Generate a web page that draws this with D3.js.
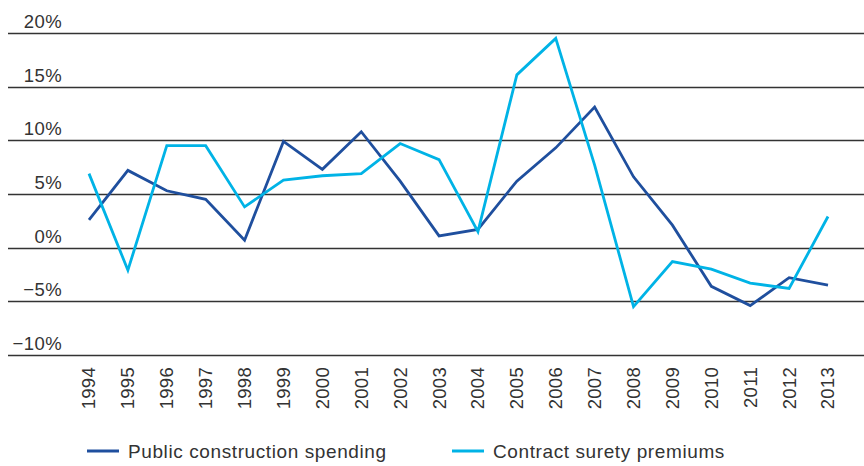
<!DOCTYPE html>
<html>
<head>
<meta charset="utf-8">
<script src="https://cdn.jsdelivr.net/npm/d3@7"></script>
<style>
  body { margin: 0; background: #fff; }
  svg text { font-family: "Liberation Sans", Arial, sans-serif; fill: #333; }
</style>
</head>
<body>
<svg id="chart" width="864" height="466"></svg>
<script>
var years = [1994, 1995, 1996, 1997, 1998, 1999, 2000, 2001, 2002, 2003,
             2004, 2005, 2006, 2007, 2008, 2009, 2010, 2011, 2012, 2013];
var publicSpending = [2.6, 7.2, 5.3, 4.5, 0.7, 9.9, 7.3, 10.8, 6.2, 1.1,
                      1.7, 6.2, 9.3, 13.1, 6.6, 2.1, -3.6, -5.4, -2.8, -3.5];
var suretyPremiums = [6.9, -2.1, 9.5, 9.5, 3.8, 6.3, 6.7, 6.9, 9.7, 8.2,
                      1.5, 16.1, 19.5, 7.7, -5.5, -1.3, -2.0, -3.3, -3.8, 2.9];
var yTicks = [20, 15, 10, 5, 0, -5, -10];
var seriesNames = ["Public construction spending", "Contract surety premiums"];
var seriesColors = ["#1f4f9e", "#00b3e6"];

var svg = d3.select("#chart");

var xScale = d3.scalePoint()
    .domain(years)
    .range([89, 828]);

var yScale = d3.scaleLinear()
    .domain([-10, 20])
    .range([355, 33]);

// gridlines + labels
var grid = svg.append("g").attr("class", "grid");
grid.selectAll("line")
    .data(yTicks)
    .enter()
    .append("line")
    .attr("x1", 8)
    .attr("x2", 864)
    .attr("y1", function(d) { return Math.round(yScale(d)) + 0.5; })
    .attr("y2", function(d) { return Math.round(yScale(d)) + 0.5; })
    .attr("stroke", "#333")
    .attr("stroke-width", 1.3);

grid.selectAll("text")
    .data(yTicks)
    .enter()
    .append("text")
    .attr("x", 62)
    .attr("y", function(d) { return yScale(d) - 5; })
    .style("text-anchor", "end")
    .style("font-size", "18.5px")
    .style("letter-spacing", "0.4px")
    .text(function(d) { return (d < 0 ? "\u2212" + Math.abs(d) : d) + "%"; });

// x axis labels (rotated)
svg.append("g")
    .selectAll("text")
    .data(years)
    .enter()
    .append("text")
    .attr("transform", function(d) {
        return "translate(" + xScale(d) + ",367) rotate(-90)";
    })
    .attr("dy", "0.35em")
    .style("text-anchor", "end")
    .style("font-size", "18.5px")
    .style("letter-spacing", "0.3px")
    .text(function(d) { return d; });

var line = d3.line()
    .x(function(d, i) { return xScale(years[i]); })
    .y(function(d) { return yScale(d); });

[publicSpending, suretyPremiums].forEach(function(values, k) {
    svg.append("path")
        .datum(values)
        .attr("fill", "none")
        .attr("stroke", seriesColors[k])
        .attr("stroke-width", 2.8)
        .attr("stroke-linejoin", "miter")
        .attr("d", line);
});

// legend
var legendX = [87, 452];
var legend = svg.append("g").attr("class", "legend");
seriesNames.forEach(function(name, k) {
    legend.append("line")
        .attr("x1", legendX[k])
        .attr("x2", legendX[k] + 32)
        .attr("y1", 451)
        .attr("y2", 451)
        .attr("stroke", seriesColors[k])
        .attr("stroke-width", 3);
    legend.append("text")
        .attr("x", legendX[k] + 41)
        .attr("y", 451)
        .attr("dy", "0.35em")
        .style("font-size", "19px")
        .style("letter-spacing", "0.6px")
        .text(name);
});
</script>
</body>
</html>
